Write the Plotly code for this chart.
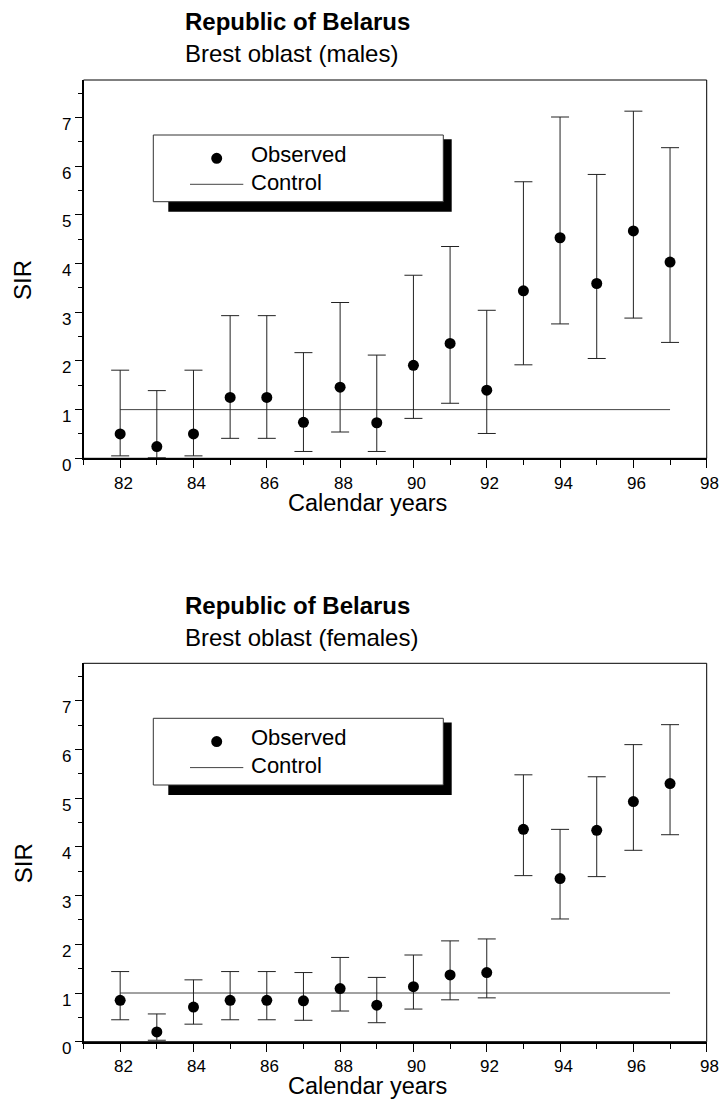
import plotly.graph_objects as go

# ---- data -------------------------------------------------------------
years = [82, 83, 84, 85, 86, 87, 88, 89, 90, 91, 92, 93, 94, 95, 96, 97]

# Brest oblast, males: observed SIR with 95% confidence limits
males_sir = [0.50, 0.24, 0.50, 1.25, 1.25, 0.74, 1.46, 0.73, 1.91, 2.36, 1.40, 3.44, 4.53, 3.59, 4.67, 4.03]
males_low = [0.05, 0.01, 0.05, 0.41, 0.41, 0.14, 0.54, 0.14, 0.82, 1.13, 0.51, 1.92, 2.76, 2.05, 2.88, 2.38]
males_high = [1.81, 1.39, 1.81, 2.93, 2.93, 2.17, 3.20, 2.12, 3.76, 4.35, 3.04, 5.68, 7.01, 5.83, 7.13, 6.38]

# Brest oblast, females
females_sir = [0.85, 0.20, 0.71, 0.85, 0.85, 0.84, 1.09, 0.75, 1.13, 1.37, 1.42, 4.36, 3.35, 4.34, 4.93, 5.30]
females_low = [0.45, 0.03, 0.36, 0.45, 0.45, 0.44, 0.63, 0.39, 0.67, 0.86, 0.90, 3.41, 2.52, 3.39, 3.93, 4.25]
females_high = [1.44, 0.57, 1.27, 1.44, 1.44, 1.42, 1.73, 1.32, 1.78, 2.07, 2.11, 5.48, 4.36, 5.44, 6.10, 6.51]

# Control level (SIR = 1)
control_years = [82, 97]
control_sir = [1, 1]

y_ticks = [0, 1, 2, 3, 4, 5, 6, 7]
x_ticks = [82, 84, 86, 88, 90, 92, 94, 96, 98]

panels = [
    ("Republic of Belarus", "Brest oblast (males)", males_sir, males_low, males_high),
    ("Republic of Belarus", "Brest oblast (females)", females_sir, females_low, females_high),
]

# ---- page geometry (pixels) -------------------------------------------
PAGE_W, PAGE_H = 720, 1099
FRAME_L, FRAME_R = 83.5, 706.7
FRAME_TOPS = [80.0, 663.3]
FRAME_BOTS = [458.3, 1041.7]

TEXT_FONT = "Liberation Sans, Arial, sans-serif"
TICK_FONT = dict(family="Liberation Sans, Arial, sans-serif", size=17, color="black")


def paper_x(px):
    return px / PAGE_W


def paper_y(py):
    return 1 - py / PAGE_H


fig = go.Figure()
shapes = []
annotations = []

for i, (title, subtitle, sir, low, high) in enumerate(panels):
    n = "" if i == 0 else str(i + 1)
    xa, ya = "x" + n, "y" + n
    top, bot = FRAME_TOPS[i], FRAME_BOTS[i]
    fw, fh = FRAME_R - FRAME_L, bot - top

    fig.add_trace(go.Scatter(
        x=control_years, y=control_sir, mode="lines",
        line=dict(color="#444444", width=1),
        xaxis=xa, yaxis=ya, showlegend=False, hoverinfo="skip",
    ))
    fig.add_trace(go.Scatter(
        x=years, y=sir, mode="markers",
        marker=dict(color="black", size=11),
        error_y=dict(
            type="data", symmetric=False,
            array=[h - v for h, v in zip(high, sir)],
            arrayminus=[v - l for v, l in zip(sir, low)],
            color="#222222", thickness=1, width=9,
        ),
        xaxis=xa, yaxis=ya, showlegend=False,
    ))

    axis_common = dict(
        showline=True, linewidth=2, linecolor="black",
        showgrid=False, zeroline=False, ticks="outside",
        tickcolor="black", tickwidth=1, showticklabels=False,
    )
    fig.update_layout({
        "xaxis" + n: dict(
            axis_common,
            domain=[paper_x(FRAME_L), paper_x(FRAME_R)],
            anchor=ya, range=[81, 98],
            tickvals=x_ticks, ticklen=8,
            minor=dict(dtick=1, tick0=81, ticks="outside", ticklen=5,
                       tickcolor="black", tickwidth=1),
        ),
        "yaxis" + n: dict(
            axis_common,
            domain=[paper_y(bot), paper_y(top)],
            anchor=xa, range=[0, 7.77],
            tickvals=y_ticks, ticklen=7,
            minor=dict(dtick=0.5, tick0=0, ticks="outside", ticklen=4,
                       tickcolor="black", tickwidth=1),
        ),
    })

    # tick labels, placed on the axes' own scales
    for t in x_ticks:
        annotations.append(dict(
            text=str(t), xref=xa, yref="paper", x=t, y=paper_y(bot + 25),
            xanchor="center", yanchor="middle", xshift=3, borderpad=0,
            showarrow=False, font=TICK_FONT,
        ))
    for t in y_ticks:
        annotations.append(dict(
            text=str(t), xref="paper", yref=ya, x=paper_x(72.5), y=t,
            xanchor="right", yanchor="middle", yshift=-7,
            showarrow=False, font=TICK_FONT,
        ))

    # thin frame around the plotting area
    shapes.append(dict(type="rect", xref=xa + " domain", yref=ya + " domain",
                       x0=0, x1=1, y0=0, y1=1, line=dict(color="black", width=1)))

    # legend box with drop shadow (pixel offsets from the frame's top-left corner)
    def dx(p):
        return p / fw

    def dy(p):
        return 1 - p / fh

    shapes.append(dict(type="rect", xref=xa + " domain", yref=ya + " domain",
                       x0=dx(84.8), x1=dx(368.2), y0=dy(131.7), y1=dy(59.3),
                       fillcolor="black", line=dict(width=0)))
    shapes.append(dict(type="rect", xref=xa + " domain", yref=ya + " domain",
                       x0=dx(69.8), x1=dx(359.8), y0=dy(121.7), y1=dy(55.0),
                       fillcolor="white", line=dict(color="#333333", width=1)))
    shapes.append(dict(type="circle", xref=xa + " domain", yref=ya + " domain",
                       x0=dx(133.2 - 5.5), x1=dx(133.2 + 5.5),
                       y0=dy(78.3 + 5.5), y1=dy(78.3 - 5.5),
                       fillcolor="black", line=dict(width=0)))
    shapes.append(dict(type="line", xref=xa + " domain", yref=ya + " domain",
                       x0=dx(106.5), x1=dx(159.8), y0=dy(104.3), y1=dy(104.3),
                       line=dict(color="#444444", width=1)))
    for label, cy in (("Observed", 74.5), ("Control", 102.5)):
        annotations.append(dict(
            text=label, xref=xa + " domain", yref=ya + " domain",
            x=dx(165.2), y=dy(cy), xanchor="left", yanchor="middle",
            showarrow=False, font=dict(family=TEXT_FONT, size=22, color="black"),
        ))

    # titles
    annotations.append(dict(
        text="<b>" + title + "</b>", xref="paper", yref="paper",
        x=paper_x(183), y=paper_y(top - 58), xanchor="left", yanchor="middle",
        showarrow=False, font=dict(family=TEXT_FONT, size=24, color="black"),
    ))
    annotations.append(dict(
        text=subtitle, xref="paper", yref="paper",
        x=paper_x(183), y=paper_y(top - 26), xanchor="left", yanchor="middle",
        showarrow=False, font=dict(family=TEXT_FONT, size=24, color="black"),
    ))

    # axis titles
    annotations.append(dict(
        text="Calendar years", xref="paper", yref="paper",
        x=paper_x(367.5), y=paper_y(bot + 44.5), xanchor="center", yanchor="middle",
        borderpad=0, showarrow=False,
        font=dict(family=TEXT_FONT, size=23.5, color="black"),
    ))
    annotations.append(dict(
        text="SIR", xref="paper", yref="paper", textangle=-90,
        x=paper_x(23), y=paper_y(top + 200), xanchor="center", yanchor="middle",
        showarrow=False, font=dict(family=TEXT_FONT, size=24, color="black"),
    ))

fig.update_layout(
    width=PAGE_W, height=PAGE_H,
    margin=dict(l=0, r=0, t=0, b=0),
    paper_bgcolor="white", plot_bgcolor="white",
    shapes=shapes, annotations=annotations,
    showlegend=False,
)

fig.write_html("out.html")
